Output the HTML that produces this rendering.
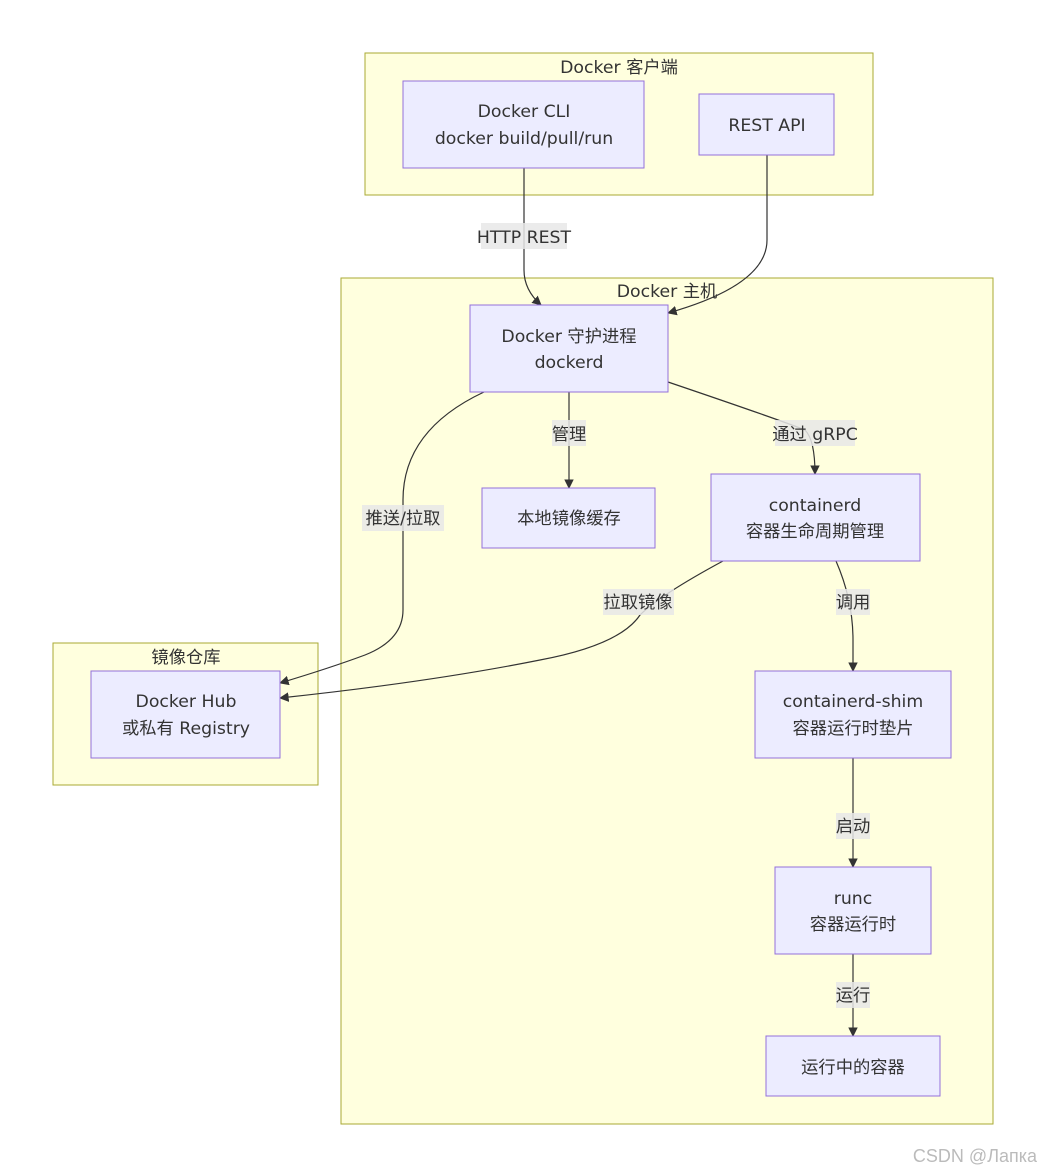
<!DOCTYPE html>
<html><head><meta charset="utf-8"><style>
html,body{margin:0;padding:0;background:#fff;}
svg{display:block;}
text{font-family:"DejaVu Sans","Noto Sans CJK SC",sans-serif;font-size:17.3px;fill:#333;text-anchor:middle;dominant-baseline:central;transform:translateY(2px);}
.c{fill:#ffffde;stroke:#aaaa33;stroke-width:1;}
.n{fill:#ececff;stroke:#9370db;stroke-width:1;}
.e{fill:none;stroke:#333;stroke-width:1.2;}
.lb{fill:rgba(232,232,232,0.85);}
</style></head><body>
<svg width="1044" height="1172" viewBox="0 0 1044 1172">
<defs><marker id="a" viewBox="0 0 10 10" refX="9" refY="5" markerWidth="8" markerHeight="8" orient="auto"><path d="M0,0L10,5L0,10z" fill="#333"/></marker></defs>
<rect class="c" x="365" y="53" width="508" height="142"/>
<text x="619" y="66">Docker 客户端</text>
<rect class="c" x="341" y="278" width="652" height="846"/>
<text x="667" y="290">Docker 主机</text>
<rect class="c" x="53" y="643" width="265" height="142"/>
<text x="186" y="656">镜像仓库</text>

<path class="e" d="M524,168 L524,270 Q524,290 541,305" marker-end="url(#a)"/>
<path class="e" d="M767,155 L767,240 Q767,285 668,313" marker-end="url(#a)"/>
<path class="e" d="M569,392 L569,488" marker-end="url(#a)"/>
<path class="e" d="M668,382 Q780,420 805,430 Q815,440 815,474" marker-end="url(#a)"/>
<path class="e" d="M484,392 Q403,430 403,500 L403,610 Q403,640 365,655 Q330,668 280,683" marker-end="url(#a)"/>
<path class="e" d="M723,561 Q660,595 640,615 Q620,645 540,660 Q430,682 280,698" marker-end="url(#a)"/>
<path class="e" d="M836,561 Q853,600 853,640 L853,671" marker-end="url(#a)"/>
<path class="e" d="M853,758 L853,867" marker-end="url(#a)"/>
<path class="e" d="M853,954 L853,1036" marker-end="url(#a)"/>

<rect class="lb" x="481" y="223" width="86" height="26"/><text x="524" y="236">HTTP REST</text>
<rect class="lb" x="552" y="420" width="34" height="26"/><text x="569" y="433">管理</text>
<rect class="lb" x="775" y="420" width="80" height="26"/><text x="815" y="433">通过 gRPC</text>
<rect class="lb" x="362" y="505" width="82" height="26"/><text x="403" y="517">推送/拉取</text>
<rect class="lb" x="603" y="589" width="71" height="26"/><text x="638" y="601">拉取镜像</text>
<rect class="lb" x="836" y="589" width="34" height="26"/><text x="853" y="601">调用</text>
<rect class="lb" x="836" y="813" width="34" height="26"/><text x="853" y="825">启动</text>
<rect class="lb" x="836" y="982" width="34" height="26"/><text x="853" y="994">运行</text>

<rect class="n" x="403" y="81" width="241" height="87"/>
<text x="524" y="110">Docker CLI</text><text x="524" y="137">docker build/pull/run</text>
<rect class="n" x="699" y="94" width="135" height="61"/>
<text x="767" y="124">REST API</text>
<rect class="n" x="470" y="305" width="198" height="87"/>
<text x="569" y="335">Docker 守护进程</text><text x="569" y="361">dockerd</text>
<rect class="n" x="482" y="488" width="173" height="60"/>
<text x="569" y="517">本地镜像缓存</text>
<rect class="n" x="711" y="474" width="209" height="87"/>
<text x="815" y="504">containerd</text><text x="815" y="530">容器生命周期管理</text>
<rect class="n" x="755" y="671" width="196" height="87"/>
<text x="853" y="700">containerd-shim</text><text x="853" y="727">容器运行时垫片</text>
<rect class="n" x="775" y="867" width="156" height="87"/>
<text x="853" y="897">runc</text><text x="853" y="923">容器运行时</text>
<rect class="n" x="766" y="1036" width="174" height="60"/>
<text x="853" y="1066">运行中的容器</text>
<rect class="n" x="91" y="671" width="189" height="87"/>
<text x="186" y="700">Docker Hub</text><text x="186" y="727">或私有 Registry</text>

<text x="975" y="1154" style="font-family:'Liberation Sans',sans-serif;fill:#bbb;font-size:18px;">CSDN @Лапка</text>
</svg>
</body></html>
